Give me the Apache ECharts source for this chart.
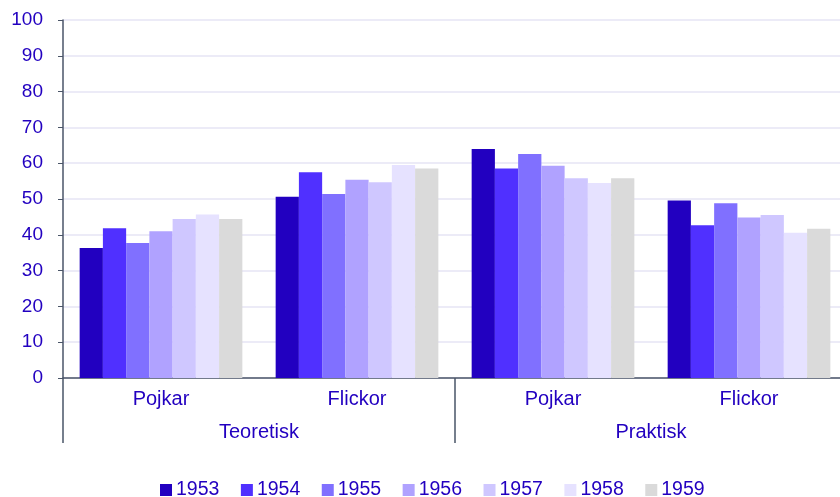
<!DOCTYPE html>
<html>
<head>
<meta charset="utf-8">
<script src="https://cdn.jsdelivr.net/npm/echarts@6/dist/echarts.min.js"></script>
<style>
html,body{margin:0;padding:0;background:#fff;}
#chart{width:840px;height:497px;}
</style>
</head>
<body>
<div id="chart"></div>
<script>
var categories = ['Pojkar', 'Flickor', 'Pojkar', 'Flickor'];
var groups = ['Teoretisk', 'Praktisk'];
var years = ['1953', '1954', '1955', '1956', '1957', '1958', '1959'];
var v1953 = [36.3, 50.6, 64.0, 49.6];
var v1954 = [41.8, 57.5, 58.5, 42.7];
var v1955 = [37.7, 51.4, 62.6, 48.8];
var v1956 = [41.0, 55.4, 59.3, 44.8];
var v1957 = [44.4, 54.7, 55.8, 45.5];
var v1958 = [45.7, 59.5, 54.5, 40.6];
var v1959 = [44.4, 58.5, 55.8, 41.7];
var yTicks = [0, 100, 10];

var values = [v1953, v1954, v1955, v1956, v1957, v1958, v1959];
var colors = ['#2200c0', '#5030ff', '#8070ff', '#b0a2ff', '#cfc7ff', '#e6e2ff', '#dadada'];
var textColor = '#2200c0';
var font = 'Liberation Sans';

var series = [];
for (var i = 0; i < years.length; i++) {
    series.push({
        name: years[i],
        type: 'bar',
        data: values[i],
        barGap: '0%',
        barCategoryGap: '17%',
        itemStyle: { color: colors[i] }
    });
}

var chart = echarts.init(document.getElementById('chart'));
chart.setOption({
    animation: false,
    color: colors,
    grid: { left: 63, top: 20, right: -7, bottom: 119, containLabel: false, outerBoundsMode: 'none' },
    legend: {
        data: years,
        top: 480,
        left: 160,
        padding: 0,
        itemWidth: 12,
        itemHeight: 12,
        itemGap: 21.5,
        icon: 'rect',
        textStyle: { color: textColor, fontSize: 19.5, fontFamily: font, padding: [0, 0, 0, -1] }
    },
    xAxis: [{
        type: 'category',
        data: categories,
        axisLine: { lineStyle: { color: '#4a5568', width: 1.5 } },
        axisTick: { show: false },
        axisLabel: { color: textColor, fontSize: 20, fontFamily: font, margin: 11 }
    }, {
        type: 'category',
        data: groups,
        position: 'bottom',
        axisLine: { show: false },
        axisTick: { show: true, length: 65, interval: 0, lineStyle: { color: '#4a5568', width: 1.5 } },
        axisLabel: { color: textColor, fontSize: 20, fontFamily: font, margin: 44 },
        splitLine: { show: false }
    }],
    yAxis: {
        type: 'value',
        min: yTicks[0],
        max: yTicks[1],
        interval: yTicks[2],
        axisLine: { show: true, lineStyle: { color: '#4a5568', width: 1.5 } },
        axisTick: { show: true, length: 5, lineStyle: { color: '#4a5568' } },
        axisLabel: { color: textColor, fontSize: 19, fontFamily: font, margin: 20 },
        splitLine: { lineStyle: { color: '#e6e4f4', width: 1.5 } }
    },
    series: series
});
</script>
</body>
</html>
